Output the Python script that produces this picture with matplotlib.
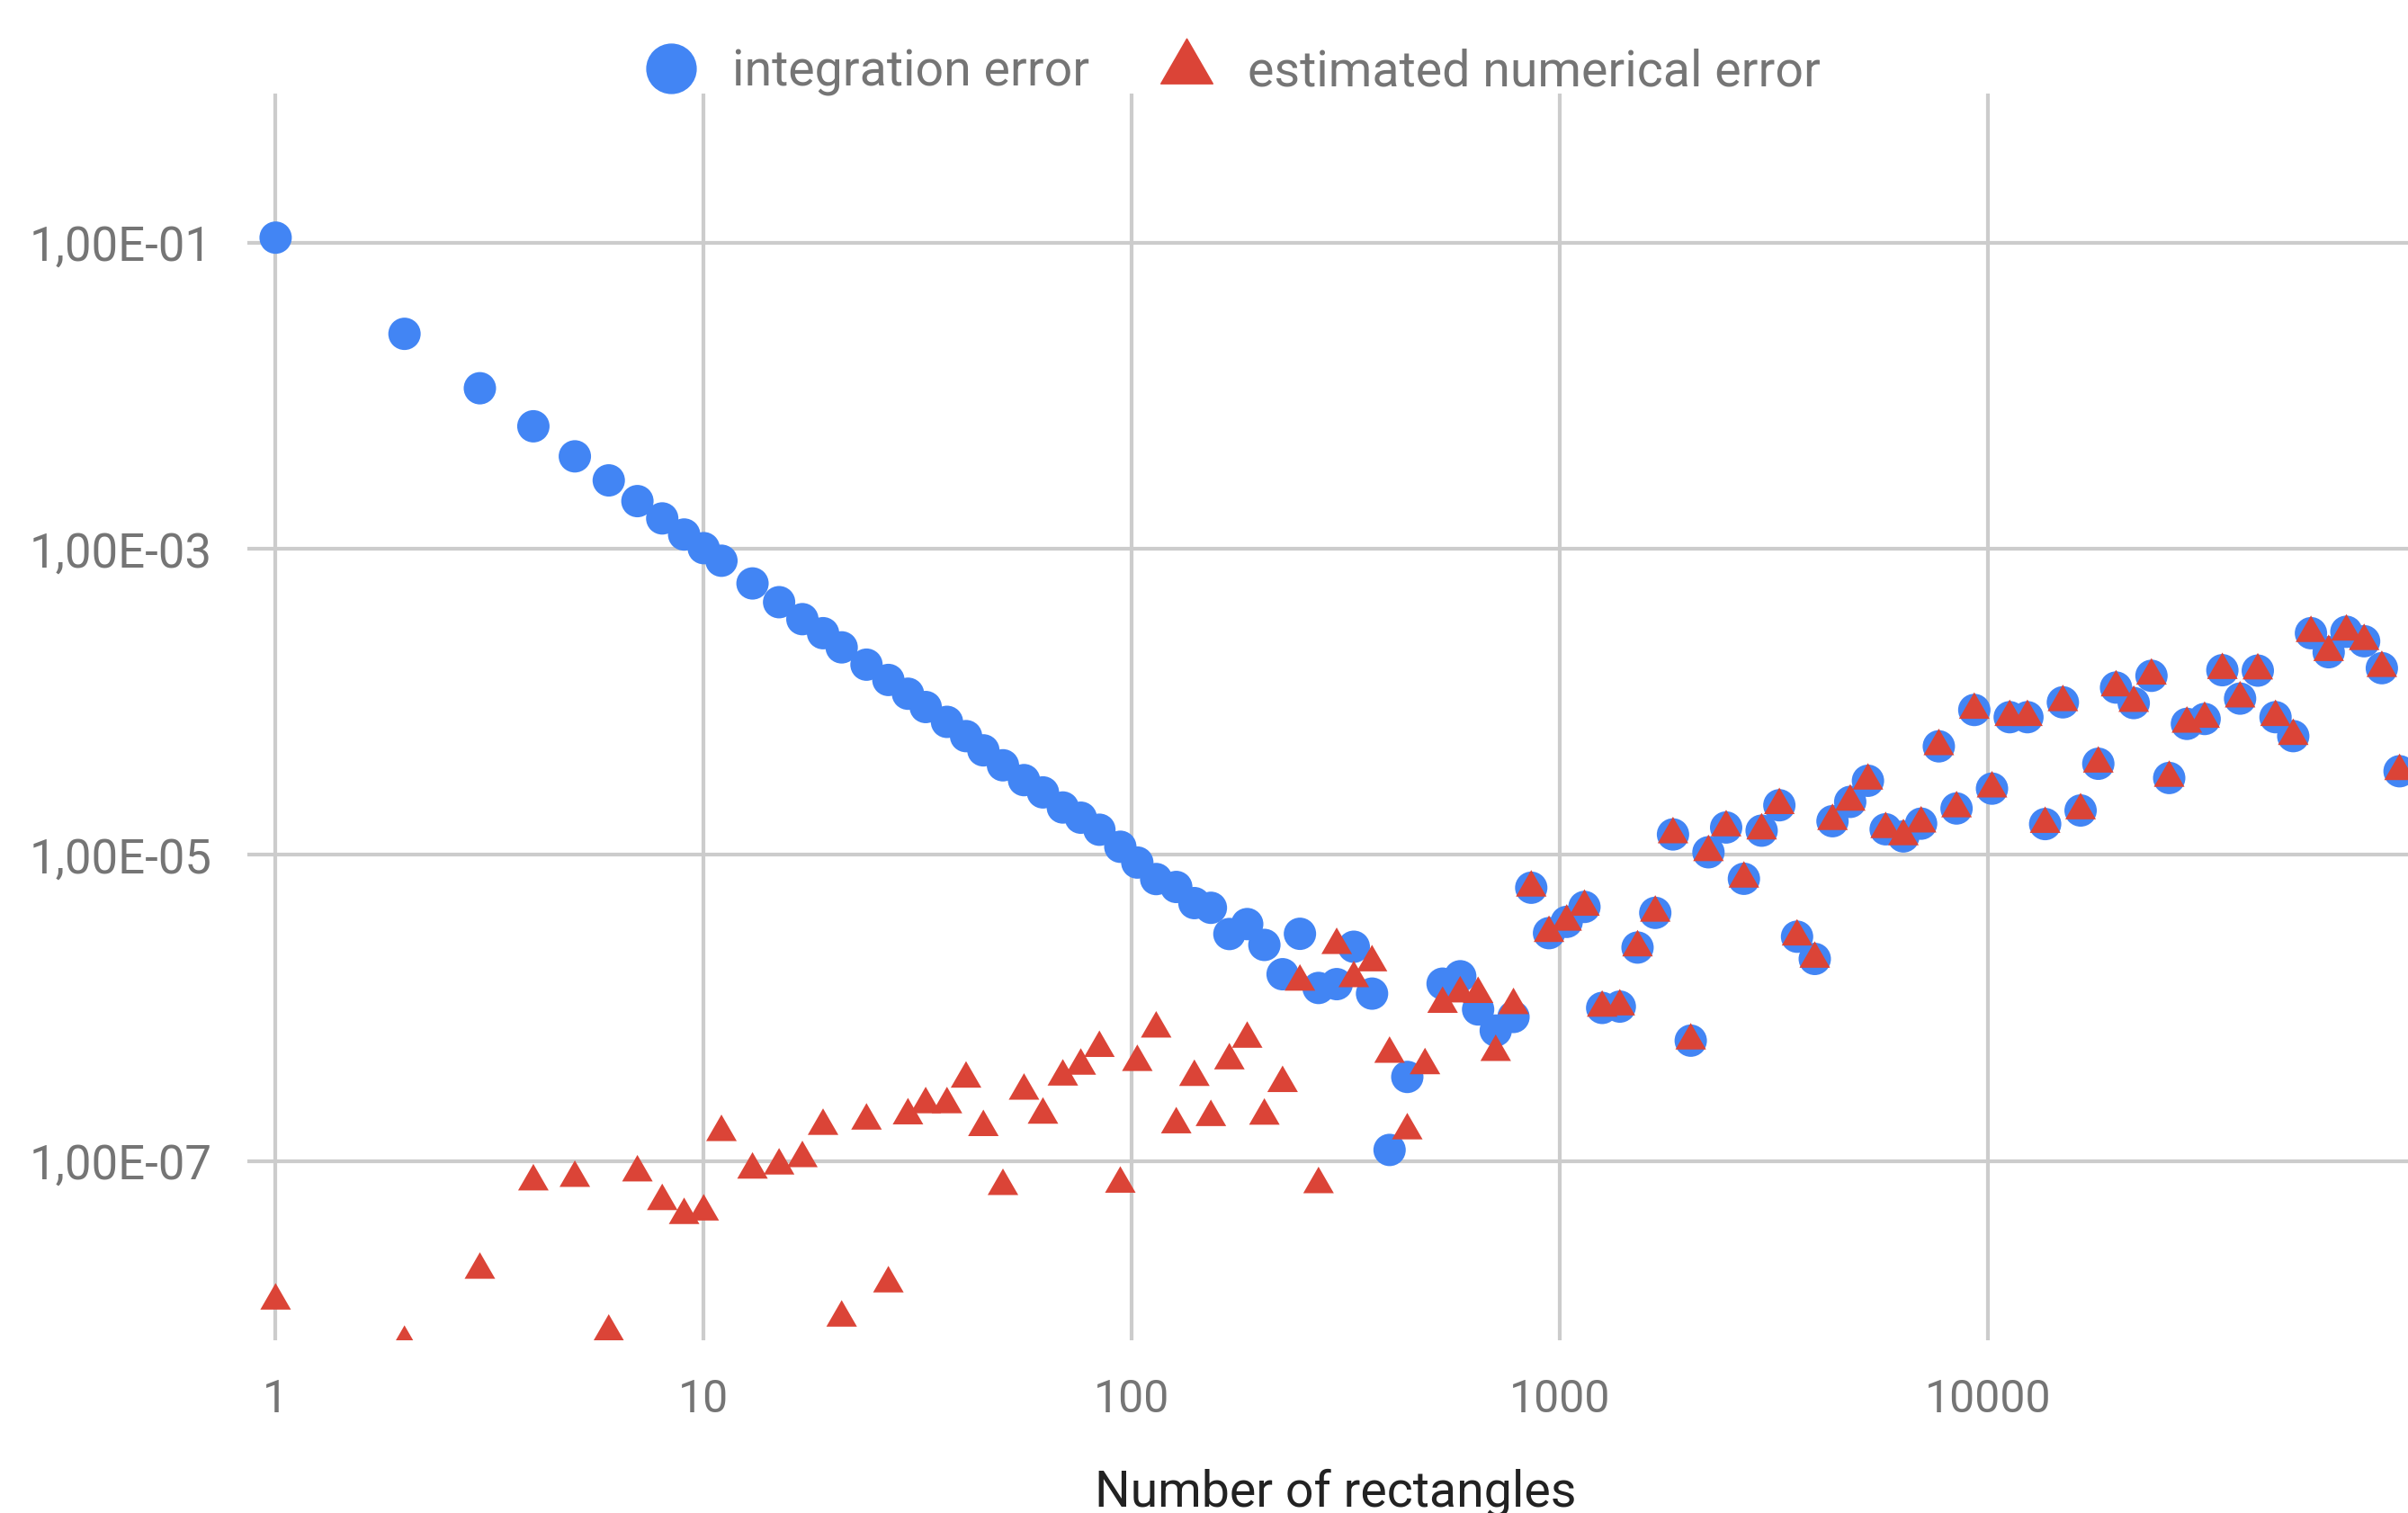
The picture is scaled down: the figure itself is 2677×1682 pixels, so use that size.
import numpy as np
import matplotlib
matplotlib.use("Agg")
import matplotlib.pyplot as plt
from matplotlib.lines import Line2D
from matplotlib.path import Path

# ---------------- data ----------------
n_rectangles = [1, 2, 3, 4, 5, 6, 7, 8, 9, 10, 11, 13, 15, 17, 19, 21, 24, 27, 30, 33,
                37, 41, 45, 50, 56, 62, 69, 76, 84, 94, 103, 114, 127, 140, 153, 169,
                186, 204, 225, 247, 273, 301, 330, 364, 400, 440, 484, 532, 585, 644,
                708, 779, 857, 943, 1037, 1141, 1255, 1380, 1518, 1670, 1837, 2021,
                2223, 2445, 2690, 2959, 3255, 3580, 3938, 4332, 4765, 5242, 5766, 6343,
                6977, 7675, 8442, 9287, 10215, 11237, 12360, 13596, 14956, 16452, 18097,
                19907, 21897, 24087, 26496, 29146, 32060, 35266, 38793, 42672, 46939,
                51633, 56797, 62476, 68724, 75596, 83156, 91472]

integration_error = [1.08e-1, 2.54e-2, 1.12e-2, 6.32e-3, 4.02e-3, 2.80e-3, 2.05e-3, 1.58e-3,
                     1.24e-3, 1.01e-3, 8.36e-4, 5.94e-4, 4.48e-4, 3.47e-4, 2.81e-4, 2.27e-4,
                     1.75e-4, 1.39e-4, 1.13e-4, 9.25e-5, 7.40e-5, 5.97e-5, 4.82e-5, 3.85e-5,
                     3.08e-5, 2.56e-5, 2.04e-5, 1.75e-5, 1.46e-5, 1.13e-5, 8.91e-6, 6.95e-6,
                     6.17e-6, 4.84e-6, 4.51e-6, 3.04e-6, 3.53e-6, 2.58e-6, 1.66e-6, 3.05e-6,
                     1.35e-6, 1.43e-6, 2.51e-6, 1.24e-6, 1.18e-7, 3.54e-7, np.nan, 1.44e-6,
                     1.61e-6, 9.77e-7, 7.11e-7, 8.73e-7, 6.10e-6, 3.08e-6, 3.65e-6, 4.57e-6,
                     1.00e-6, 1.02e-6, 2.48e-6, 4.18e-6, 1.36e-5, 6.11e-7, 1.04e-5, 1.51e-5,
                     6.98e-6, 1.44e-5, 2.11e-5, 2.92e-6, 2.09e-6, 1.66e-5, 2.22e-5, 3.05e-5,
                     1.47e-5, 1.32e-5, 1.60e-5, 5.12e-5, 2.01e-5, 8.85e-5, 2.71e-5, 7.94e-5,
                     7.94e-5, 1.59e-5, 9.93e-5, 1.95e-5, 3.94e-5, 1.24e-4, 9.82e-5, 1.48e-4,
                     3.18e-5, 7.18e-5, 7.73e-5, 1.61e-4, 1.05e-4, 1.60e-4, 7.94e-5, 5.97e-5,
                     2.81e-4, 2.11e-4, 2.87e-4, 2.49e-4, 1.66e-4, 3.52e-5]

estimated_numerical_error = [1.22e-8, 6.46e-9, 1.94e-8, 7.33e-8, 7.73e-8, 7.64e-9, 8.39e-8,
                             5.45e-8, 4.42e-8, 4.66e-8, 1.54e-7, 8.75e-8, 9.31e-8, 1.04e-7,
                             1.69e-7, 9.44e-9, 1.83e-7, 1.58e-8, 1.98e-7, 2.34e-7, 2.34e-7,
                             3.44e-7, 1.66e-7, 6.84e-8, 2.87e-7, 2.00e-7, 3.55e-7, 4.18e-7,
                             5.46e-7, 7.08e-8, 4.42e-7, 7.31e-7, 1.73e-7, 3.53e-7, 1.93e-7,
                             4.53e-7, 6.27e-7, 1.97e-7, 3.22e-7, 1.48e-6, 7.03e-8, 2.57e-6,
                             1.56e-6, 1.98e-6, 5.00e-7, 1.58e-7, 4.21e-7, 1.06e-6, 1.24e-6,
                             1.23e-6, 5.14e-7, 1.04e-6, 6.10e-6, 3.08e-6, 3.65e-6, 4.57e-6,
                             1.00e-6, 1.02e-6, 2.48e-6, 4.18e-6, 1.36e-5, 6.11e-7, 1.04e-5,
                             1.51e-5, 6.98e-6, 1.44e-5, 2.11e-5, 2.92e-6, 2.09e-6, 1.66e-5,
                             2.22e-5, 3.05e-5, 1.47e-5, 1.32e-5, 1.60e-5, 5.12e-5, 2.01e-5,
                             8.85e-5, 2.71e-5, 7.94e-5, 7.94e-5, 1.59e-5, 9.93e-5, 1.95e-5,
                             3.94e-5, 1.24e-4, 9.82e-5, 1.48e-4, 3.18e-5, 7.18e-5, 7.73e-5,
                             1.61e-4, 1.05e-4, 1.60e-4, 7.94e-5, 5.97e-5, 2.81e-4, 2.11e-4,
                             2.87e-4, 2.49e-4, 1.66e-4, 3.52e-5]

series_names = ["integration error", "estimated numerical error"]
x_ticks = [1, 10, 100, 1000, 10000]
x_tick_labels = ["1", "10", "100", "1000", "10000"]
y_ticks = [1e-1, 1e-3, 1e-5, 1e-7]
y_tick_labels = ["1,00E-01", "1,00E-03", "1,00E-05", "1,00E-07"]
x_title = "Number of rectangles"

# ---------------- style ----------------
BLUE = "#4285F4"
RED = "#DB4437"
GRID = "#CCCCCC"
TICK = "#757575"
TITLE = "#222222"

plt.rcParams["font.family"] = ["Roboto", "DejaVu Sans"]

W, H, DPI = 2677, 1682, 100
fig = plt.figure(figsize=(W / DPI, H / DPI), dpi=DPI)
ax = fig.add_axes([275 / W, 1 - 1490 / H, 1 - 275 / W, (1490 - 104) / H])

ax.set_xscale("log")
ax.set_yscale("log")
ax.set_xlim(10 ** -0.066, 10 ** 4.981)
ax.set_ylim(10 ** -8.172, 10 ** -0.025)

# triangle marker whose centroid sits on the data point
tri = Path([(0, 0.5774), (-0.5, -0.2887), (0.5, -0.2887), (0, 0.5774)], closed=True)

ax.scatter(n_rectangles, integration_error, s=25.9 ** 2, marker="o", color=BLUE,
           edgecolors="none", zorder=3, label=series_names[0])
ax.scatter(n_rectangles, estimated_numerical_error, s=28.3 ** 2, marker=tri, color=RED,
           edgecolors="none", zorder=4, label=series_names[1])

ax.set_xticks(x_ticks)
ax.set_xticklabels(x_tick_labels)
ax.set_yticks(y_ticks)
ax.set_yticklabels(y_tick_labels)
ax.xaxis.set_minor_locator(matplotlib.ticker.NullLocator())
ax.yaxis.set_minor_locator(matplotlib.ticker.NullLocator())
ax.tick_params(axis="both", length=0, labelcolor=TICK)
ax.tick_params(axis="x", pad=30, labelsize=36)
ax.tick_params(axis="y", pad=28, labelsize=38)
ax.grid(True, color=GRID, linewidth=3.0)
ax.set_axisbelow(True)
for sp in ax.spines.values():
    sp.set_visible(False)

fig.text(1484.5 / W, 1 - 1675 / H, x_title, ha="center", va="baseline",
         fontsize=40, color=TITLE)

handles = [Line2D([], [], linestyle="none", marker="o", color=BLUE, markersize=39.5),
           Line2D([], [], linestyle="none", marker=tri, color=RED, markersize=48)]
fig.legend(handles, series_names, loc="center left", bbox_to_anchor=(709.5 / W, 1 - 80 / H),
           ncol=2, frameon=False, fontsize=40, labelcolor=TICK, handlelength=1.3,
           handletextpad=0.58, columnspacing=1.29, borderpad=0, borderaxespad=0)

fig.savefig("out.png", dpi=DPI)
